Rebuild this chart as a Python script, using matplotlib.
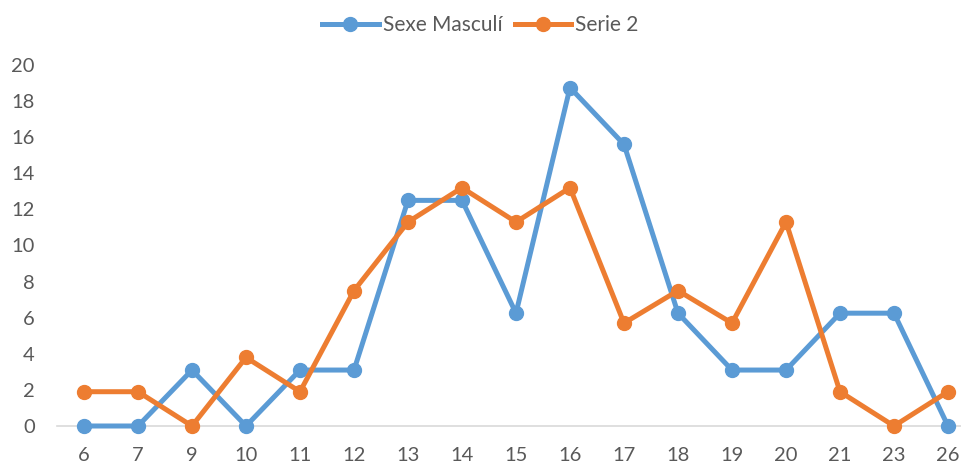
import matplotlib
matplotlib.use("Agg")
import matplotlib.pyplot as plt

categories = ["6", "7", "9", "10", "11", "12", "13", "14", "15", "16", "17", "18", "19", "20", "21", "23", "26"]
sexe_masculi = [0, 0, 3.1, 0, 3.1, 3.1, 12.5, 12.5, 6.25, 18.75, 15.6, 6.25, 3.1, 3.1, 6.25, 6.25, 0]
serie2 = [1.9, 1.9, 0, 3.8, 1.9, 7.5, 11.3, 13.2, 11.3, 13.2, 5.7, 7.5, 5.7, 11.3, 1.9, 0, 1.9]
yticks = [0, 2, 4, 6, 8, 10, 12, 14, 16, 18, 20]

W, H = 961, 467
fig = plt.figure(figsize=(W / 100, H / 100), dpi=100)
plt.rcParams['font.family'] = ['Lato', 'DejaVu Sans']
txt = '#595959'

left, right = 57, 975
top, bottom = 65, 426
ax = fig.add_axes([left / W, (H - bottom) / H, (right - left) / W, (bottom - top) / H])

x = list(range(len(categories)))
blue = '#5B9BD5'
orange = '#ED7D31'
ax.plot(x, sexe_masculi, color=blue, lw=3.6, marker='o', ms=10, label='Sexe Masculí',
        clip_on=False, zorder=3, solid_joinstyle='round')
ax.plot(x, serie2, color=orange, lw=3.6, marker='o', ms=10, label='Serie 2',
        clip_on=False, zorder=4, solid_joinstyle='round')

ax.set_xlim(-0.5, len(categories) - 0.5)
ax.set_ylim(0, 20)
ax.set_xticks(x)
ax.set_xticklabels(categories)
ax.set_yticks(yticks)
ax.tick_params(axis='both', length=0, labelsize=14.5, labelcolor=txt)
ax.tick_params(axis='y', pad=16)
ax.tick_params(axis='x', pad=15)
for s in ['top', 'right', 'left']:
    ax.spines[s].set_visible(False)
ax.spines['bottom'].set_color('#D9D9D9')
ax.spines['bottom'].set_linewidth(1.2)

fig.legend(loc='center', bbox_to_anchor=(0.5, 1 - 25 / H), ncol=2, frameon=False,
           fontsize=15, labelcolor=txt, handlelength=2.7, handletextpad=0.2,
           columnspacing=0.6)

fig.savefig('out.png', dpi=100)
